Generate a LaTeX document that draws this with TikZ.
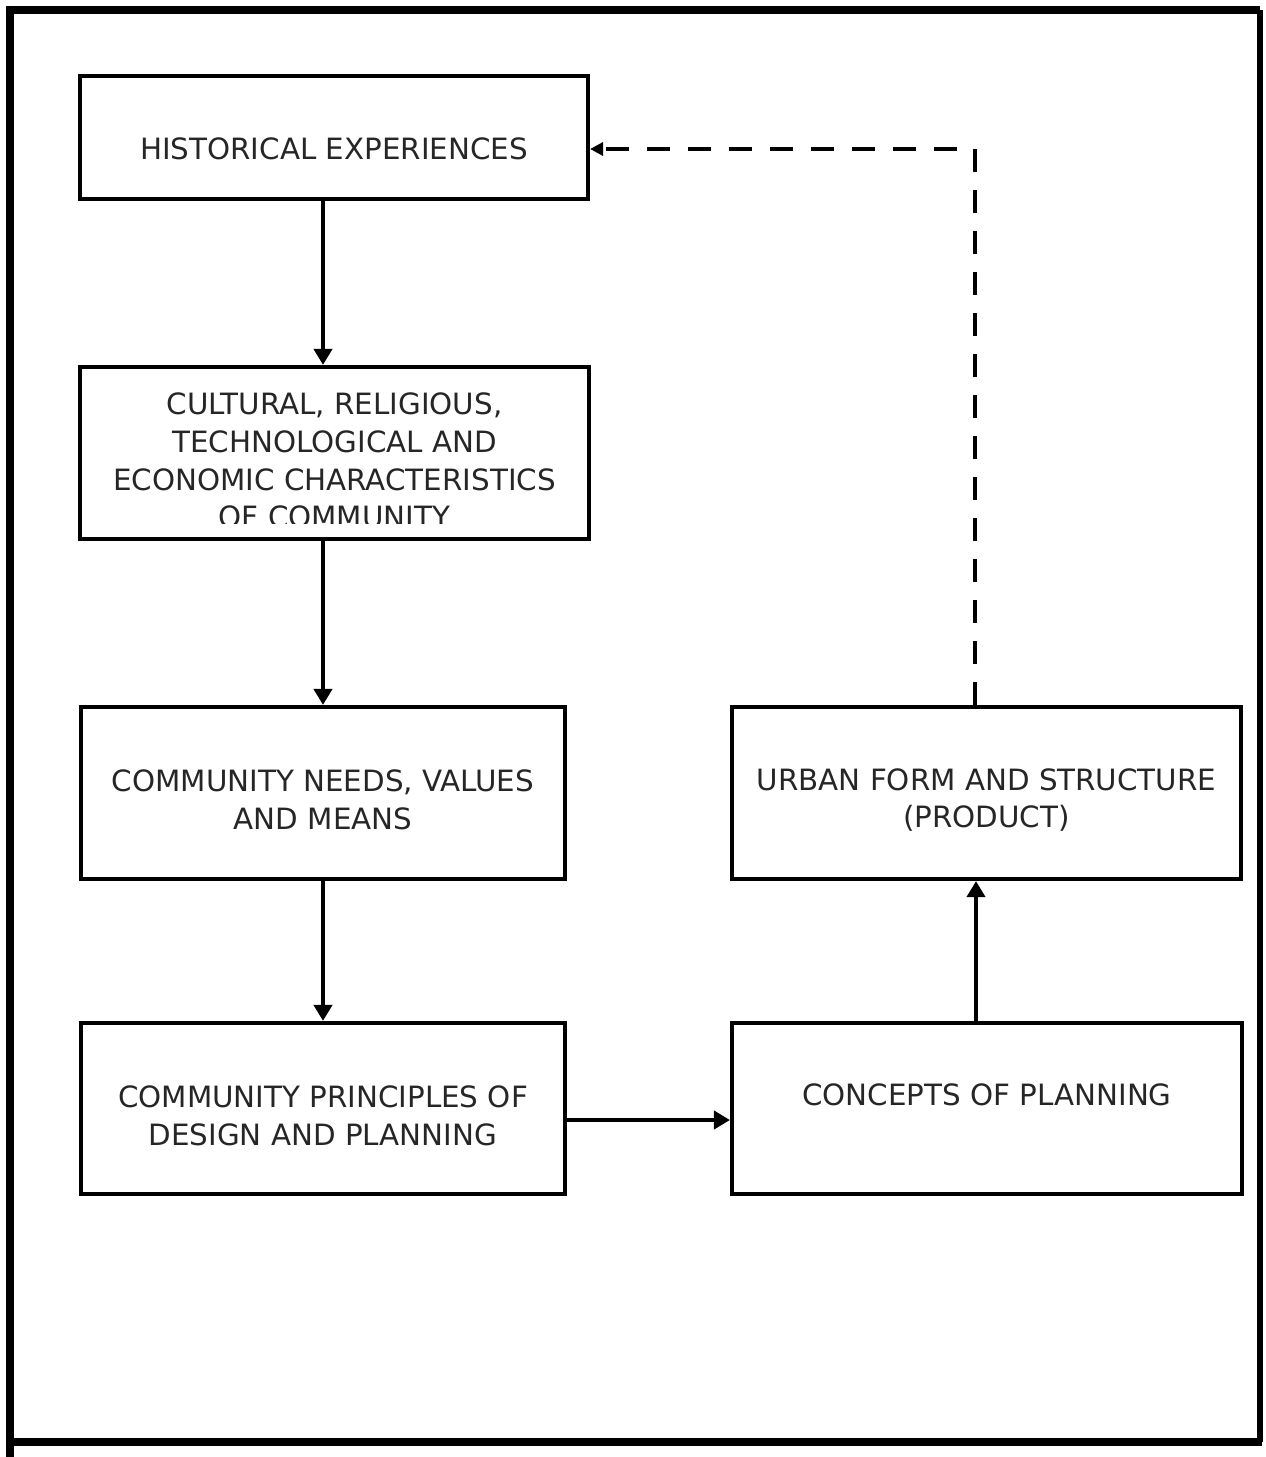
\documentclass[tikz,border=0pt]{standalone}
\usepackage{fontspec}
\newfontfamily\boxfont{DejaVu Sans}
\usetikzlibrary{arrows.meta}

\tikzset{
  stage/.style={draw, line width=2.4pt, inner sep=0pt},
  words/.style={font={\boxfont\fontsize{16.7}{21.5}\selectfont}, align=center, text=black!85},
  flow/.style={-{Triangle[length=0.32cm,width=0.36cm]}, line width=2.6pt},
  back/.style={-{Triangle[length=0.26cm,width=0.26cm]}, line width=2.6pt, dash pattern=on 0.46cm off 0.36cm}
}

\begin{document}
\begin{tikzpicture}[x=0.02cm, y=-0.02cm]
\useasboundingbox (0,0) rectangle (1266,1457);

% Outer frame
\draw[line width=4.5pt] (10,1457) -- (10,10) -- (1260,10);
\draw[line width=3pt] (1260,10) -- (1260,1442);
\draw[line width=4.5pt] (1262,1442) -- (10,1442);

% Left column
\node[stage, minimum width=10.16cm, minimum height=2.46cm,
  label={[words, yshift=-0.23cm]center:HISTORICAL EXPERIENCES}] (hist) at (334,137.5) {};
\node[stage, minimum width=10.18cm, minimum height=3.44cm] (cult) at (334.5,453) {};
\node[stage, minimum width=9.68cm, minimum height=3.44cm,
  label={[words, yshift=-0.14cm]center:COMMUNITY NEEDS, VALUES\\AND MEANS}] (needs) at (323,793) {};
\node[stage, minimum width=9.68cm, minimum height=3.42cm,
  label={[words, yshift=-0.15cm]center:COMMUNITY PRINCIPLES OF\\DESIGN AND PLANNING}] (princ) at (323,1108.5) {};

% Right column
\node[stage, minimum width=10.2cm, minimum height=3.42cm,
  label={[words, yshift=0.27cm]center:CONCEPTS OF PLANNING}] (concepts) at (987,1108.5) {};
\node[stage, minimum width=10.18cm, minimum height=3.44cm,
  label={[words, yshift=-0.14cm]center:URBAN FORM AND STRUCTURE\\(PRODUCT)}] (urban) at (986.5,793) {};

% Text of the second box, cut off at the bottom
\begin{scope}
\clip (80,369) rectangle (589,523);
\node[words, yshift=-0.15cm] (cult-text) at (cult.center)
  {CULTURAL, RELIGIOUS,\\TECHNOLOGICAL AND\\ECONOMIC CHARACTERISTICS\\OF COMMUNITY};
\end{scope}

% Connectors
\draw[flow] (hist.south -| needs.north) -- (cult.north -| needs.north);
\draw[flow] (cult.south -| needs.north) -- (needs.north);
\draw[flow] (needs.south) -- (princ.north);
\draw[flow] ([yshift=-0.23cm]princ.east) -- ([yshift=-0.23cm]concepts.west);
\draw[flow] ([xshift=-0.22cm]concepts.north) -- ([xshift=-0.22cm]concepts.north |- urban.south);

% Feedback
\draw[back] ([xshift=-0.23cm]urban.north) |- ([yshift=-0.23cm]hist.east);

\end{tikzpicture}
\end{document}
